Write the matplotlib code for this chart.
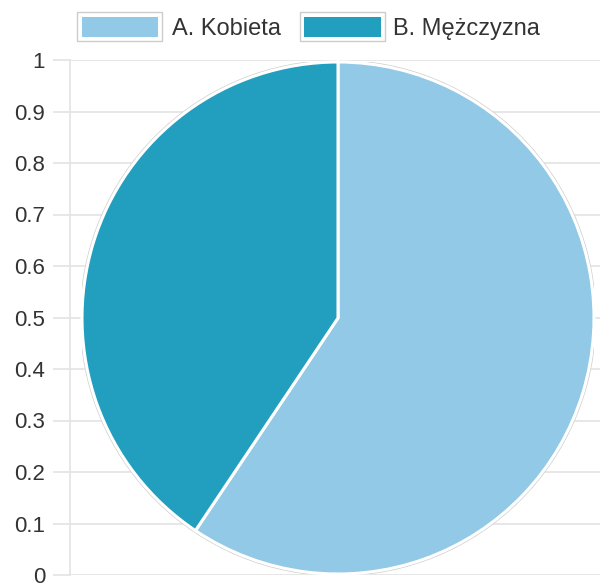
import matplotlib
matplotlib.use("Agg")
import matplotlib.pyplot as plt
from matplotlib.patches import Circle, Rectangle

plt.rcParams['font.family'] = ['Liberation Sans', 'DejaVu Sans']

categories = ["A. Kobieta", "B. Mężczyzna"]
values = [0.594, 0.406]
colors = ["#91C9E6", "#229EBE"]
yticks = [0, 0.1, 0.2, 0.3, 0.4, 0.5, 0.6, 0.7, 0.8, 0.9, 1]
ytick_labels = ["0", "0.1", "0.2", "0.3", "0.4", "0.5", "0.6", "0.7", "0.8", "0.9", "1"]

W, H = 600, 586
fig = plt.figure(figsize=(W / 100, H / 100), dpi=100)

# background axes with y-scale grid
ax = fig.add_axes([70 / W, (H - 575) / H, 530 / W, 515 / H])
ax.set_ylim(0, 1)
ax.set_xlim(0, 1)
ax.set_yticks(yticks)
ax.set_yticklabels(ytick_labels, fontsize=16, color="#333333")
ax.set_xticks([])
ax.grid(axis="y", color="#e3e3e3", linewidth=1.2)
ax.tick_params(axis="y", length=12, color="#e3e3e3", width=1.2, pad=6)
for s in ["top", "right", "bottom"]:
    ax.spines[s].set_visible(False)
ax.spines["left"].set_color("#e3e3e3")
ax.spines["left"].set_linewidth(1.2)
ax.set_axisbelow(True)

# pie axes
cx, cy, r = 338, 318, 256
ax2 = fig.add_axes([(cx - r) / W, (H - cy - r) / H, 2 * r / W, 2 * r / H])
ax2.axis("off")
ax2.add_patch(Circle((0, 0), 1.006, facecolor="none", edgecolor="#cfcfcf", linewidth=1.0))
wedges, _ = ax2.pie(values, colors=colors, startangle=90, counterclock=False, radius=1,
                    wedgeprops=dict(edgecolor="white", linewidth=2.2))
ax2.set_xlim(-1.0, 1.0)
ax2.set_ylim(-1.0, 1.0)

# legend drawn in pixel coordinates (top-left origin)
def fx(px):
    return px / W

def fy(py):
    return 1 - py / H

box_x = [77, 300]
text_x = [172, 393]
for bx, tx, lab, col in zip(box_x, text_x, categories, colors):
    fig.patches.append(Rectangle((fx(bx), fy(41)), 85 / W, 29 / H, transform=fig.transFigure,
                                 facecolor="white", edgecolor="#cccccc", linewidth=1.0))
    fig.patches.append(Rectangle((fx(bx + 4.5), fy(36.5)), 76 / W, 20 / H, transform=fig.transFigure,
                                 facecolor=col, edgecolor="none"))
    fig.text(fx(tx), fy(26.5), lab, fontsize=17, color="#333333", ha="left", va="center_baseline")

fig.savefig("out.png", dpi=100)
